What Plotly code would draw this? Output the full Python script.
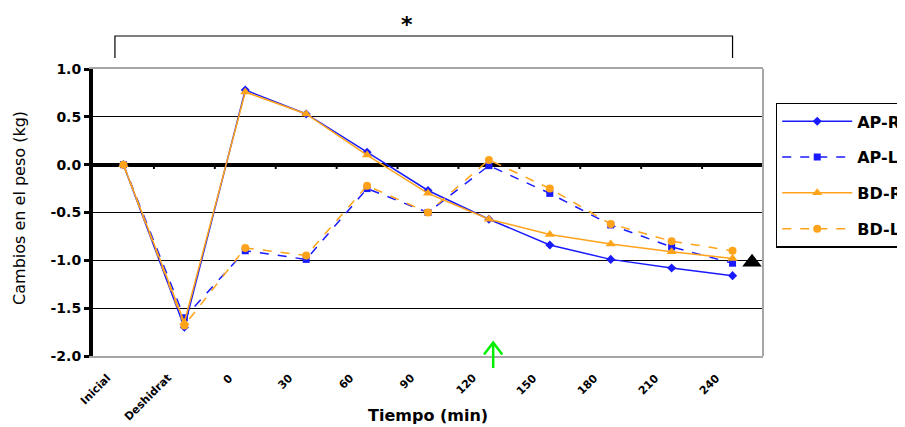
import plotly.graph_objects as go

categories = ["Inicial", "Deshidrat", "0", "30", "60", "90", "120", "150", "180", "210", "240"]
ap_r = [0.0, -1.70, 0.78, 0.53, 0.13, -0.27, -0.57, -0.84, -0.99, -1.08, -1.16]
ap_l = [0.0, -1.60, -0.90, -0.99, -0.25, -0.50, -0.01, -0.30, -0.63, -0.86, -1.03]
bd_r = [0.0, -1.65, 0.76, 0.53, 0.10, -0.30, -0.57, -0.73, -0.83, -0.91, -0.98]
bd_l = [0.0, -1.68, -0.87, -0.95, -0.22, -0.50, 0.05, -0.25, -0.62, -0.80, -0.90]
y_ticks = [1.0, 0.5, 0.0, -0.5, -1.0, -1.5, -2.0]
y_tick_labels = ["1.0", "0.5", "0.0", "-0.5", "-1.0", "-1.5", "-2.0"]
end_marker_x = [10.32]
end_marker_y = [-1.02]

BLUE = "#1a1aff"
ORANGE = "#ffa31a"
FONT = "DejaVu Sans"

x = list(range(len(categories)))

fig = go.Figure()
series = [
    ("AP-R", ap_r, BLUE, "solid", "diamond", 7),
    ("AP-L", ap_l, BLUE, "dash", "square", 7),
    ("BD-R", bd_r, ORANGE, "solid", "triangle-up", 9),
    ("BD-L", bd_l, ORANGE, "dash", "circle", 8),
]
for name, vals, col, dash, sym, sz in series:
    fig.add_trace(go.Scatter(
        x=x, y=vals, name=name, mode="lines+markers",
        line=dict(color=col, width=1.5, dash=dash),
        marker=dict(symbol=sym, size=sz, color=col),
        legendgroup=name,
    ))

fig.add_trace(go.Scatter(
    x=end_marker_x, y=end_marker_y, mode="markers", showlegend=False,
    marker=dict(symbol="triangle-up", size=17, color="black"),
    cliponaxis=False,
))

shapes = []
for i in range(len(categories)):
    b = i + 0.5
    shapes.append(dict(type="line", xref="x", yref="y", x0=b, x1=b, y0=0, y1=-0.045,
                       line=dict(color="black", width=2), layer="above"))
shapes.append(dict(type="line", xref="paper", yref="paper", x0=1, x1=1, y0=0, y1=1,
                   line=dict(color="#a6a6a6", width=2)))
shapes.append(dict(type="path", xref="x", yref="paper",
                   path="M -0.14,1.038 L -0.14,1.115 L 10.0,1.115 L 10.0,1.038",
                   line=dict(color="black", width=1.2)))
shapes.append(dict(type="path", xref="x", yref="paper",
                   path="M 6.07,-0.042 L 6.07,0.047 M 5.92,0.005 L 6.07,0.047 L 6.22,0.005",
                   line=dict(color="#00ee00", width=2.5)))

annotations = [
    dict(text="<b>*</b>", xref="x", yref="paper", x=4.66, y=1.205,
         yanchor="top", showarrow=False, font=dict(size=22, family=FONT)),
    dict(text="Cambios en el peso (kg)", xref="paper", yref="paper", x=-0.109, y=0.516,
         textangle=-90, showarrow=False, xanchor="center", yanchor="middle",
         font=dict(size=16, family=FONT)),
    dict(text="<b>Tiempo (min)</b>", xref="paper", yref="paper", x=0.5, y=-0.206,
         showarrow=False, xanchor="center", yanchor="middle",
         font=dict(size=16, family=FONT)),
]
for xi, lab in zip(x, categories):
    annotations.append(dict(text="<b>" + lab + "</b>", xref="x", yref="paper", x=xi - 0.12, y=-0.045,
                            textangle=-45, showarrow=False, xanchor="right", yanchor="top",
                            font=dict(size=11, family=FONT)))

fig.update_layout(
    width=897, height=419,
    margin=dict(l=85, r=142, t=61, b=71, autoexpand=False),
    paper_bgcolor="white", plot_bgcolor="white",
    font=dict(family=FONT, color="black"),
    shapes=shapes,
    annotations=annotations,
    showlegend=True,
    legend=dict(x=1.019, y=0.882, xanchor="left", yanchor="top",
                bordercolor="black", borderwidth=1.5,
                font=dict(family=FONT, size=16, color="black", weight="bold"),
                tracegroupgap=12, itemwidth=70),
    xaxis=dict(
        range=[-0.5, 10.5], tickmode="array", tickvals=x, ticktext=["" for _ in x],
        showgrid=False, zeroline=False, showline=True, linecolor="#a6a6a6",
        linewidth=2, mirror=True, ticks="", automargin=False,
    ),
    yaxis=dict(
        range=[-2.0, 1.0], tickmode="array", tickvals=y_ticks, ticktext=y_tick_labels,
        tickfont=dict(size=14, family=FONT, weight="bold"),
        showgrid=True, gridcolor="black", gridwidth=1,
        zeroline=True, zerolinecolor="black", zerolinewidth=4,
        showline=True, linecolor="black", linewidth=4,
        ticks="outside", ticklen=5, tickwidth=3, tickcolor="black", automargin=False,
    ),
)

fig.write_html("out.html")
